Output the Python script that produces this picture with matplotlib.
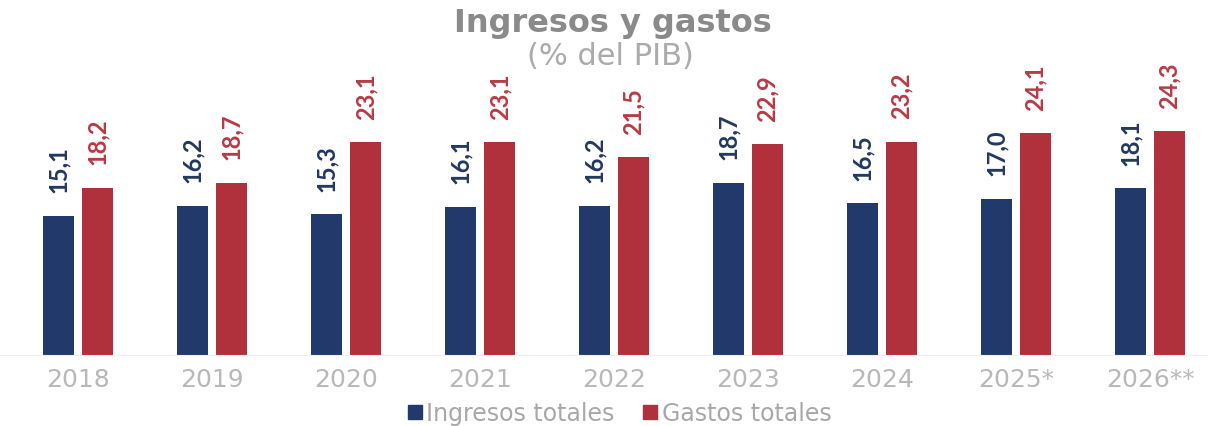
import numpy as np
import matplotlib.pyplot as plt
from matplotlib.patches import Patch

years = ['2018', '2019', '2020', '2021', '2022', '2023', '2024', '2025*', '2026**']
ingresos = [15.1, 16.2, 15.3, 16.1, 16.2, 18.7, 16.5, 17.0, 18.1]
gastos = [18.2, 18.7, 23.1, 23.1, 21.5, 22.9, 23.2, 24.1, 24.3]

azul = '#213a6b'
rojo = '#b0303b'
azul_txt = '#22385f'
rojo_txt = '#b83a45'

fig = plt.figure(figsize=(12.08, 4.27), dpi=100)
ax = fig.add_axes([0, 0.1663, 1, 0.8337])

x = np.arange(len(years))
w = 0.23
off = 0.146
b1 = ax.bar(x - off, ingresos, w, color=azul)
b2 = ax.bar(x + off, gastos, w, color=rojo)

# etiquetas de valores, verticales
for xi, v in zip(x - off, ingresos):
    ax.annotate(f'{v:.1f}'.replace('.', ','), (xi, v), xytext=(0, 17),
                textcoords='offset points', rotation=90, ha='center', va='bottom',
                fontsize=17, fontweight='bold', color=azul_txt, family='Lato')
for xi, v in zip(x + off, gastos):
    ax.annotate(f'{v:.1f}'.replace('.', ','), (xi, v), xytext=(0, 17),
                textcoords='offset points', rotation=90, ha='center', va='bottom',
                fontsize=17, fontweight='bold', color=rojo_txt, family='Lato')

ax.set_xlim(-0.582, 8.433)
ax.set_ylim(0, 38.7)
ax.set_xticks(x)
ax.set_xticklabels(years, fontsize=18, color='#b8b8b8')
ax.tick_params(axis='x', length=0, pad=9)
ax.set_yticks([])
for s in ['top', 'left', 'right']:
    ax.spines[s].set_visible(False)
ax.spines['bottom'].set_color('#efefef')

fig.text(0.507, 0.925, 'Ingresos y gastos', ha='center', va='baseline',
         fontsize=23, fontweight='bold', color='#8a8a8a')
fig.text(0.505, 0.848, '(% del PIB)', ha='center', va='baseline',
         fontsize=22, color='#ababab')

handles = [Patch(color=azul), Patch(color=rojo)]
fig.legend(handles, ['Ingresos totales', 'Gastos totales'], loc='center',
           bbox_to_anchor=(0.513, 0.03), ncol=2, frameon=False, fontsize=17,
           labelcolor='#a8a8a8', handlelength=0.6, handleheight=0.5,
           handletextpad=0.2, columnspacing=1.2)

fig.savefig('out.png', dpi=100)
